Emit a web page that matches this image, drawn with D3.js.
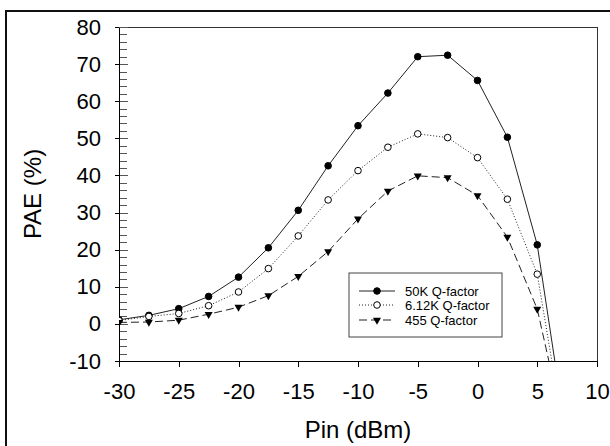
<!DOCTYPE html>
<html>
<head>
<meta charset="utf-8">
<script src="https://d3js.org/d3.v7.min.js"></script>
<style>
    body { margin: 0; background: #fff; }
    text { font-family: "Liberation Sans", Arial, sans-serif; fill: #000; }
    .axis path, .axis line { stroke: #000; shape-rendering: crispEdges; }
    .minor line { stroke: #555; }
    .minor path { display: none; }
</style>
</head>
<body>
<script>
// Input power (dBm)
var pin = [-30, -27.5, -25, -22.5, -20, -17.5, -15, -12.5, -10, -7.5, -5, -2.5, 0, 2.5, 5, 7.5];

// PAE (%) for each Q-factor, last value falls off below the axis
var pae50k = [1.1, 2.3, 4.1, 7.4, 12.6, 20.5, 30.6, 42.6, 53.4, 62.2, 72.0, 72.4, 65.6, 50.3, 21.3, -31.9];
var pae612k = [0.9, 2.0, 2.8, 4.9, 8.6, 14.9, 23.7, 33.4, 41.3, 47.6, 51.2, 50.2, 44.8, 33.6, 13.4, -34.6];
var pae455 = [0.4, 0.5, 1.0, 2.6, 4.5, 7.6, 12.8, 19.5, 28.3, 35.8, 39.9, 39.4, 34.6, 23.4, 4.0, -32.0];

var seriesNames = ["50K Q-factor", "6.12K Q-factor", "455 Q-factor"];

var xTicks = [-30, -25, -20, -15, -10, -5, 0, 5, 10];
var yTicks = [-10, 0, 10, 20, 30, 40, 50, 60, 70, 80];

window.onload = function(){

    var w = 610, h = 446;
    var left = 119, right = 597, top = 27, bottom = 361;

    // Plain hyphen for negatives, like the original
    var fmt = function(d){ return String(d); };

    var svg = d3.select("body")
        .append("svg")
        .attr("width", w)
        .attr("height", h);

    // Outer frame (runs off the right and bottom of the picture)
    svg.append("rect")
        .attr("x", 6)
        .attr("y", 11)
        .attr("width", 700)
        .attr("height", 500)
        .style("fill", "none")
        .style("stroke", "#111")
        .style("stroke-width", 2);

    var x = d3.scaleLinear()
        .domain([-30, 10])
        .range([left, right]);

    var y = d3.scaleLinear()
        .domain([-10, 80])
        .range([bottom, top]);

    // Plot frame, top and right sides
    svg.append("path")
        .attr("d", "M" + left + "," + top + "H" + right + "V" + bottom)
        .style("fill", "none")
        .style("stroke", "#333")
        .style("shape-rendering", "crispEdges");

    // Minor y ticks, inside only
    var minor = d3.range(-10, 81, 2).filter(function(d){ return d % 10 !== 0; });
    svg.append("g")
        .attr("class", "axis minor")
        .attr("transform", "translate(" + left + ",0)")
        .call(d3.axisRight(y).tickValues(minor).tickSize(8).tickFormat(""));

    // Major y ticks, inner part
    svg.append("g")
        .attr("class", "axis minor")
        .attr("transform", "translate(" + left + ",0)")
        .call(d3.axisRight(y).tickValues(yTicks).tickSize(9).tickFormat(""));

    // Y axis with labels
    var yAxis = svg.append("g")
        .attr("class", "axis")
        .attr("transform", "translate(" + left + ",0)")
        .call(d3.axisLeft(y).tickValues(yTicks).tickFormat(fmt).tickSize(4).tickPadding(14).tickSizeOuter(0));
    yAxis.selectAll("text")
        .style("font-size", "22px");

    // X axis
    var xAxis = svg.append("g")
        .attr("class", "axis")
        .attr("transform", "translate(0," + bottom + ")")
        .call(d3.axisBottom(x).tickValues(xTicks).tickFormat(fmt).tickSize(6).tickPadding(16).tickSizeOuter(0));
    xAxis.selectAll("text")
        .style("font-size", "22px");

    // Axis titles
    svg.append("text")
        .attr("x", (left + right) / 2)
        .attr("y", 438)
        .attr("text-anchor", "middle")
        .style("font-size", "24px")
        .text("Pin (dBm)");

    svg.append("text")
        .attr("transform", "translate(41," + (top + bottom) / 2 + ") rotate(-90)")
        .attr("text-anchor", "middle")
        .style("font-size", "24px")
        .text("PAE (%)");

    // Clip marks to the plot area
    svg.append("clipPath")
        .attr("id", "plotClip")
        .append("rect")
        .attr("x", left)
        .attr("y", top)
        .attr("width", right - left)
        .attr("height", bottom - top);

    var series = [
        { name: seriesNames[0], values: pae50k, dash: null, marker: "fill" },
        { name: seriesNames[1], values: pae612k, dash: "1,2", marker: "open" },
        { name: seriesNames[2], values: pae455, dash: "8,4", marker: "tri" }
    ];

    var line = d3.line()
        .x(function(d){ return x(d[0]); })
        .y(function(d){ return y(d[1]); });

    var tri = d3.symbol().type(d3.symbolTriangle).size(28);

    // Draws one marker at (0,0) into g
    function drawMarker(g, kind){
        if (kind === "tri") {
            g.append("path")
                .attr("d", tri())
                .attr("transform", "rotate(180)")
                .style("fill", "#000");
        } else {
            g.append("circle")
                .attr("r", 3.3)
                .style("fill", kind === "fill" ? "#000" : "#fff")
                .style("stroke", "#000")
                .style("stroke-width", 1);
        }
    }

    var plot = svg.append("g")
        .attr("clip-path", "url(#plotClip)");

    series.forEach(function(s){
        var pts = pin.map(function(p, i){ return [p, s.values[i]]; });

        plot.append("path")
            .datum(pts)
            .attr("d", line)
            .style("fill", "none")
            .style("stroke", "#222")
            .style("stroke-width", 1)
            .style("stroke-dasharray", s.dash);

        plot.selectAll(null)
            .data(pts.filter(function(d){ return d[1] >= -10; }))
            .enter()
            .append("g")
            .attr("transform", function(d){
                return "translate(" + x(d[0]) + "," + y(d[1]) + ")";
            })
            .each(function(){ drawMarker(d3.select(this), s.marker); });
    });

    // Legend
    var legend = svg.append("g")
        .attr("transform", "translate(349,273)");

    legend.append("rect")
        .attr("width", 153)
        .attr("height", 64)
        .style("fill", "#fff")
        .style("stroke", "#444");

    var rows = legend.selectAll(".row")
        .data(series)
        .enter()
        .append("g")
        .attr("transform", function(d, i){
            return "translate(0," + [18, 32, 47][i] + ")";
        });

    rows.append("line")
        .attr("x1", 10)
        .attr("x2", 46)
        .style("stroke", "#222")
        .style("stroke-dasharray", function(d){ return d.dash; });

    rows.append("g")
        .attr("transform", "translate(28,0)")
        .each(function(d){ drawMarker(d3.select(this), d.marker); });

    rows.append("text")
        .attr("x", 56)
        .attr("dy", "0.35em")
        .style("font-size", "13px")
        .text(function(d){ return d.name; });
};
</script>
</body>
</html>
